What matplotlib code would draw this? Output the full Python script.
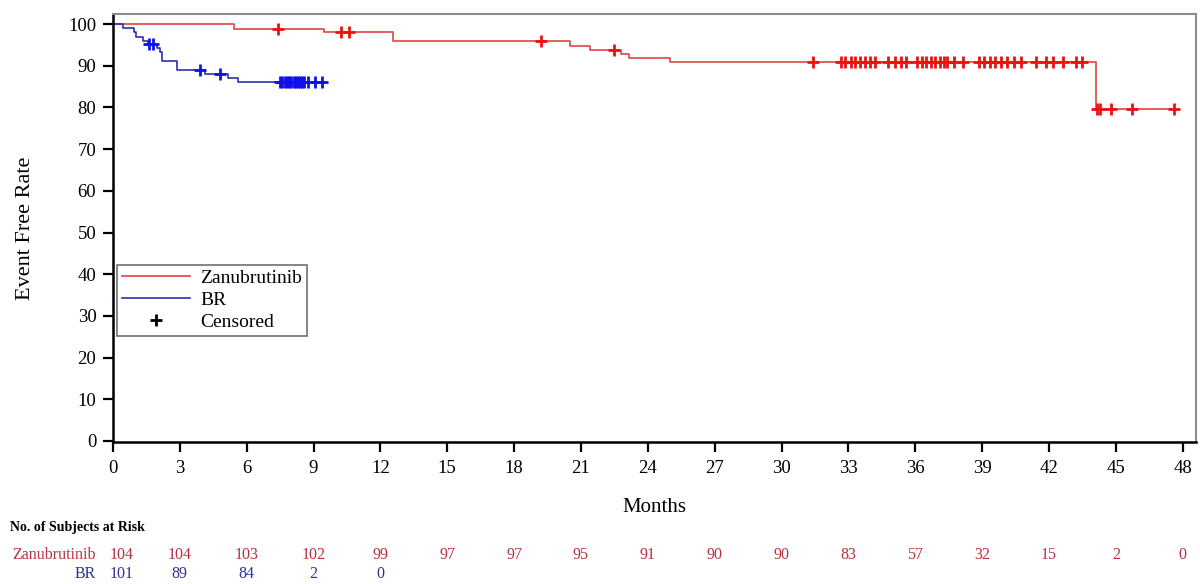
import matplotlib
matplotlib.use('Agg')
import matplotlib.pyplot as plt
import matplotlib.transforms as mtransforms
from matplotlib.lines import Line2D

plt.rcParams['font.family'] = ['Liberation Serif', 'DejaVu Serif']

# Kaplan-Meier steps (months, event free rate %)
zanu_t = [0, 5.45, 9.45, 12.55, 20.5, 21.4, 22.8, 23.15, 25.0, 44.1, 47.6]
zanu_s = [100, 98.9, 98.0, 95.9, 94.8, 93.7, 92.9, 91.9, 90.9, 79.6, 79.6]
zanu_cens_t = [7.42, 10.22, 10.6, 19.2, 22.5, 31.4,
               32.65, 32.87, 33.1, 33.3, 33.5, 33.75, 33.97, 34.2, 34.77,
               35.1, 35.37, 35.6, 36.1, 36.3, 36.5, 36.7, 36.9, 37.1, 37.3,
               37.43, 37.73, 38.15, 38.86, 39.1, 39.35, 39.6, 39.85, 40.1,
               40.43, 40.73, 41.4, 41.85, 42.2, 42.64, 43.2, 43.5,
               44.17, 44.3, 44.8, 45.74, 47.6]
zanu_cens_s = [98.9, 98.0, 98.0, 95.9, 93.7] + [90.9] * 37 + [79.6] * 5

br_t = [0, 0.46, 0.94, 1.03, 1.36, 1.59, 1.96, 2.1, 2.18, 2.86, 4.13, 5.18, 5.63, 9.37]
br_s = [100, 99.0, 98.0, 97.0, 96.0, 95.2, 94.2, 93.3, 91.2, 89.0, 88.1, 87.1, 86.1, 86.1]
br_cens_t = [1.63, 1.78, 3.9, 4.8,
             7.5, 7.6, 7.7, 7.8, 7.9, 8.0, 8.1, 8.2, 8.3, 8.4, 8.5, 8.55,
             8.77, 9.07, 9.37]
br_cens_s = [95.2, 95.2, 89.0, 88.1] + [86.1] * 15

# number at risk
risk_times = list(range(0, 49, 3))
zanu_risk = [104, 104, 103, 102, 99, 97, 97, 95, 91, 90, 90, 83, 57, 32, 15, 2, 0]
br_risk = [101, 89, 84, 2, 0]

red_line = '#e24444'
red_mark = '#ee1111'
blue_line = '#2e2eb8'
blue_mark = '#1010ee'

fig = plt.figure(figsize=(12, 5.84), dpi=100)
ax = fig.add_axes([113 / 1200, 1 - 442 / 584, (1196 - 113) / 1200, (442 - 14) / 584])

ax.step(zanu_t, zanu_s, where='post', color=red_line, lw=1.2)
ax.step(br_t, br_s, where='post', color=blue_line, lw=1.2)
ax.plot(zanu_cens_t, zanu_cens_s, ls='none', marker='+', ms=8, mew=2, color=red_mark)
ax.plot(br_cens_t, br_cens_s, ls='none', marker='+', ms=8, mew=2, color=blue_mark)

ax.set_xlim(0, 48.6)
ax.set_ylim(-0.24, 102.4)
ax.set_xticks(risk_times)
ax.set_yticks(range(0, 101, 10))
ax.tick_params(direction='out', length=7, width=1.6, labelsize=13.5, colors='black', pad=5)
ax.tick_params(axis='x', pad=6)
for side in ['left', 'bottom']:
    ax.spines[side].set_linewidth(1.8)
    ax.spines[side].set_color('black')
for side in ['top', 'right']:
    ax.spines[side].set_linewidth(1.5)
    ax.spines[side].set_color('#8c8c8c')

ax.set_xlabel('Months', fontsize=15, labelpad=15)
ax.set_ylabel('Event Free Rate', fontsize=16, labelpad=24)

handles = [Line2D([], [], color=red_line, lw=1.2),
           Line2D([], [], color=blue_line, lw=1.2),
           Line2D([], [], ls='none', marker='+', ms=8, mew=2, color='black')]
leg = ax.legend(handles, ['Zanubrutinib', 'BR', 'Censored'], loc='upper left',
                bbox_to_anchor=(0.004, 0.414), fontsize=14, fancybox=False,
                framealpha=1, edgecolor='#707070', handlelength=3.5,
                handletextpad=0.5, borderpad=0.25, labelspacing=0.22,
                borderaxespad=0)
leg.get_frame().set_linewidth(1.2)

# risk table
trans = mtransforms.blended_transform_factory(ax.transData, fig.transFigure)
fig.text(10 / 1200, 1 - 527 / 584, 'No. of Subjects at Risk', fontsize=10,
         fontweight='bold', va='center', ha='left')
fig.text(96 / 1200, 1 - 555 / 584, 'Zanubrutinib', fontsize=11.5, color='#b8303c',
         va='center', ha='right')
fig.text(96 / 1200, 1 - 574 / 584, 'BR', fontsize=11.5, color='#30309a',
         va='center', ha='right')
for t, n in zip(risk_times, zanu_risk):
    fig.text(t + (0.4 if t == 0 else 0), 1 - 555 / 584, str(n), transform=trans,
             fontsize=11.5, color='#b8303c', va='center', ha='center')
for t, n in zip(risk_times, br_risk):
    fig.text(t + (0.4 if t == 0 else 0), 1 - 574 / 584, str(n), transform=trans,
             fontsize=11.5, color='#30309a', va='center', ha='center')

fig.savefig('out.png', dpi=100)
